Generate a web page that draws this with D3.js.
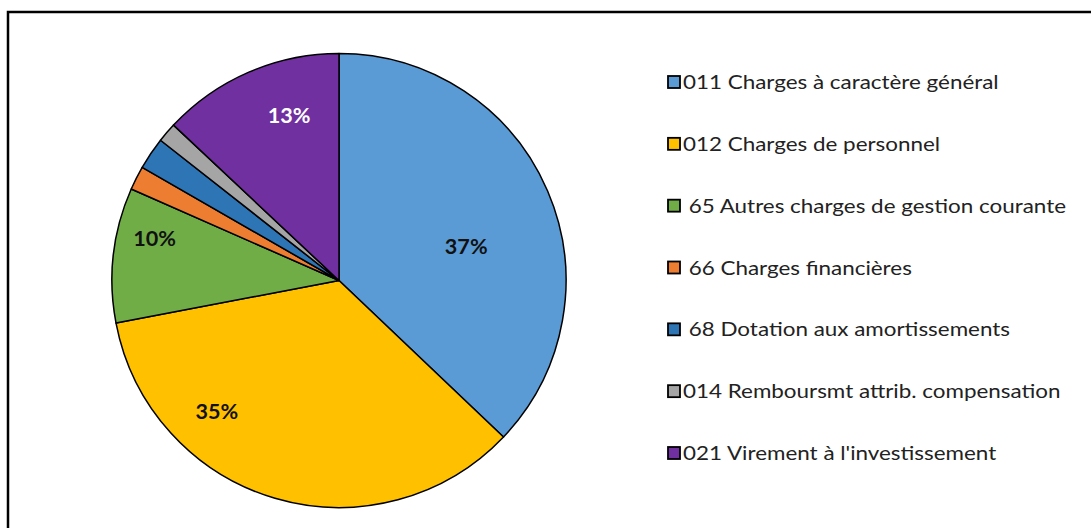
<!DOCTYPE html>
<html>
<head>
<meta charset="utf-8">
<script src="https://cdnjs.cloudflare.com/ajax/libs/d3/7.8.5/d3.min.js"></script>
<style>
  body { margin: 0; background: #fff; }
  text { font-family: Lato, "Open Sans", sans-serif; }
</style>
</head>
<body>
<div id="chart"></div>
<script>
var categories = [
  "011 Charges à caractère général",
  "012 Charges de personnel",
  " 65 Autres charges de gestion courante",
  " 66 Charges financières",
  " 68 Dotation aux amortissements",
  "014 Remboursmt attrib. compensation",
  "021 Virement à l'investissement"
]
var shares = [37.1, 34.9, 9.6, 1.7, 2.3, 1.4, 13.0]
var colors = ["#5B9BD5", "#FFC000", "#70AD47", "#ED7D31", "#2E75B6", "#A5A5A5", "#7030A0"]
var labelColors = ["#111", "#111", "#111", null, null, null, "#fff"]
// small nudges for the in-slice percentage labels (Excel "best fit")
var labelNudge = [[-23, 31], [-76, -26], [-22, -23], [0, 0], [0, 0], [0, 0], [15, -15]]

var width = 1091, height = 528
var cx = 339, cy = 280.5, r = 227

var svg = d3.select("#chart").append("svg").attr("width", width).attr("height", height)

// chart frame (only top and left edges visible)
svg.append("path")
  .attr("d", "M8,528 L8,12 L1091,12")
  .attr("fill", "none").attr("stroke", "#000").attr("stroke-width", 2.5)

var data = categories.map(function(c, i){ return {name: c, value: shares[i], i: i} })
var pie = d3.pie().sort(null).value(function(d){ return d.value })
var arcs = pie(data)
var arc = d3.arc().innerRadius(0).outerRadius(r)
var labelArc = d3.arc().innerRadius(r * 0.72).outerRadius(r * 0.72)

var g = svg.append("g").attr("transform", "translate(" + cx + "," + cy + ")")
g.selectAll("path.slice").data(arcs).enter().append("path")
  .attr("class", "slice")
  .attr("d", arc)
  .attr("fill", function(d){ return colors[d.data.i] })
  .attr("stroke", "#000").attr("stroke-width", 1.5).attr("stroke-linejoin", "round")

g.selectAll("text.pct").data(arcs.filter(function(d){ return labelColors[d.data.i] })).enter().append("text")
  .attr("class", "pct")
  .attr("transform", function(d){
    var c = labelArc.centroid(d), n = labelNudge[d.data.i]
    return "translate(" + (c[0] + n[0]) + "," + (c[1] + n[1]) + ") scale(1.08,1)"
  })
  .attr("text-anchor", "middle").attr("dy", "0.36em")
  .attr("font-size", 20).attr("font-weight", "bold")
  .attr("fill", function(d){ return labelColors[d.data.i] })
  .text(function(d){ return Math.round(d.data.value) + "%" })

var legendY = d3.scalePoint().domain(categories).range([82, 453])
var lg = svg.selectAll("g.leg").data(categories).enter().append("g")
  .attr("class", "leg")
  .attr("transform", function(d){ return "translate(668," + legendY(d) + ")" })
lg.append("rect")
  .attr("x", 0).attr("y", -6).attr("width", 12).attr("height", 12)
  .attr("fill", function(d, i){ return colors[i] })
  .attr("stroke", "#000").attr("stroke-width", 1.8)
lg.append("text")
  .attr("transform", "translate(15,0) scale(1.15,1)")
  .attr("dy", "0.36em")
  .attr("font-size", 19.5).attr("fill", "#222")
  .style("white-space", "pre")
  .text(function(d){ return d })
</script>
</body>
</html>
